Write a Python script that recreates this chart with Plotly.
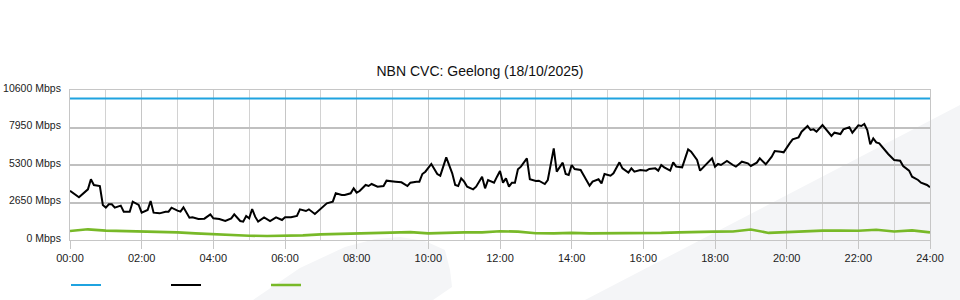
import plotly.graph_objects as go

TITLE = "NBN CVC: Geelong (18/10/2025)"

x_tick_labels = ["00:00", "02:00", "04:00", "06:00", "08:00", "10:00", "12:00",
                 "14:00", "16:00", "18:00", "20:00", "22:00", "24:00"]
y_tick_values = [0, 2650, 5300, 7950, 10600]
y_tick_labels = ["0 Mbps", "2650 Mbps", "5300 Mbps", "7950 Mbps", "10600 Mbps"]

capacity_times = ["00:00", "24:00"]
capacity_mbps = [10000, 10000]

traffic_times = [
    "00:00", "00:15", "00:30", "00:35", "00:40", "00:50", "00:55",
    "01:00", "01:05", "01:10", "01:15", "01:25", "01:30", "01:40", "01:45", "01:55",
    "02:00", "02:10", "02:15", "02:20", "02:30", "02:40", "02:45", "02:50",
    "03:00", "03:05", "03:10", "03:20", "03:25", "03:35", "03:45", "03:55",
    "04:00", "04:10", "04:20", "04:30", "04:35", "04:45", "04:50", "04:55",
    "05:00", "05:05", "05:10", "05:15", "05:25", "05:35", "05:45", "05:55",
    "06:00", "06:10", "06:20", "06:25", "06:35", "06:40", "06:50",
    "07:00", "07:10", "07:20", "07:25", "07:35", "07:40", "07:50", "07:55",
    "08:00", "08:05", "08:15", "08:20", "08:25", "08:35", "08:45", "08:50",
    "09:05", "09:15", "09:25", "09:30", "09:40", "09:45", "09:50", "09:55",
    "10:05", "10:15", "10:20", "10:30", "10:40", "10:45", "10:50", "10:55",
    "11:00", "11:05", "11:15", "11:20", "11:30", "11:35", "11:40", "11:50", "11:55",
    "12:00", "12:05", "12:10", "12:15", "12:20", "12:25", "12:30", "12:35", "12:45", "12:50",
    "13:00", "13:05", "13:15", "13:20", "13:30", "13:35", "13:45", "13:50", "13:55",
    "14:00", "14:05", "14:15", "14:20", "14:25", "14:30", "14:35", "14:45", "14:50", "14:55",
    "15:05", "15:10", "15:20", "15:25", "15:35", "15:40", "15:45", "15:55",
    "16:05", "16:10", "16:20", "16:25", "16:30", "16:35", "16:45", "16:50", "16:55",
    "17:05", "17:10", "17:15", "17:20", "17:30", "17:35", "17:40", "17:45", "17:55",
    "18:00", "18:05", "18:10", "18:20", "18:30", "18:35", "18:45", "18:55",
    "19:00", "19:10", "19:15", "19:25", "19:35", "19:40", "19:50", "19:55",
    "20:05", "20:10", "20:20", "20:25", "20:35", "20:40", "20:45", "20:50",
    "21:00", "21:05", "21:15", "21:20", "21:30", "21:35", "21:45", "21:50",
    "22:00", "22:05", "22:10", "22:15", "22:20", "22:25", "22:30", "22:35", "22:45", "22:50",
    "23:00", "23:10", "23:15", "23:25", "23:30", "23:40", "23:45", "23:55", "24:00",
]
traffic_mbps = [
    3484, 3016, 3580, 4288, 3887, 3816, 2473,
    2285, 2520, 2520, 2285, 2426, 2002, 2002, 2709, 2473,
    1931, 2120, 2756, 1931, 1884, 2002, 2002, 2285,
    2073, 2002, 2308, 1578, 1602, 1484, 1508, 1813,
    1531, 1484, 1343, 1531, 1813, 1343, 1296, 1696,
    1531, 2191, 1649, 1296, 1602, 1343, 1602, 1413,
    1602, 1602, 1696, 2167, 2049, 2167, 1837,
    2238, 2591, 2709, 3298, 3180, 3180, 3298, 3651,
    3345, 3463, 3887, 3816, 3957, 3769, 3816, 4193,
    4123, 4076, 3816, 4052, 4123, 4123, 4664, 4829,
    5371, 4664, 4546, 5842, 4711, 3887, 3816, 4358,
    4123, 3769, 3580, 3769, 4476, 3651, 4240, 4052, 4476,
    4876, 4052, 4358, 3769, 4052, 4052, 4994, 5183, 5771, 4288,
    4170, 4193, 3957, 4240, 6477, 4829, 5465, 4664, 4593,
    5300, 5017, 4947, 4593, 4240, 3840, 4123, 4288, 4005, 4664,
    4546, 4711, 5488, 5064, 4758, 5064, 4829, 4947,
    4900, 5017, 5064, 4900, 5300, 5135, 4900, 5488, 5183,
    5135, 5771, 6407, 6242, 5653, 4900, 5135, 5371, 5771,
    5183, 5371, 5300, 5583, 5300, 5183, 5535, 5418,
    5230, 5465, 5771, 5347, 5889, 6289, 6242, 6195,
    6831, 7114, 7255, 7655, 8056, 7773, 7820, 7655,
    8127, 7891, 7349, 7585, 7490, 7820, 7962, 7585,
    8103, 8056, 8197, 7773, 6760, 7184, 6901, 6831, 6289, 6077,
    5653, 5606, 5230, 4900, 4476, 4240, 4052, 3887, 3722,
]

upload_times = [
    "00:00", "00:30", "01:00", "01:30", "02:00", "02:30", "03:00", "03:30",
    "04:00", "04:30", "05:00", "05:30", "06:00", "06:30", "07:00", "07:30",
    "08:00", "08:30", "09:00", "09:30", "10:00", "10:30", "11:00", "11:30",
    "12:00", "12:30", "13:00", "13:30", "14:00", "14:30", "15:00", "15:30",
    "16:00", "16:30", "17:00", "17:30", "18:00", "18:30", "19:00", "19:30",
    "20:00", "20:30", "21:00", "21:30", "22:00", "22:30", "23:00", "23:30",
    "24:00",
]
upload_mbps = [
    636, 754, 660, 636, 600, 542, 542, 471,
    400, 353, 300, 283, 283, 330, 400, 424,
    450, 471, 542, 560, 470, 520, 540, 542,
    620, 590, 480, 471, 500, 471, 470, 500,
    518, 500, 540, 589, 589, 600, 740, 500,
    560, 620, 660, 660, 650, 720, 600, 680,
    540,
]

assert len(traffic_times) == len(traffic_mbps)
assert len(upload_times) == len(upload_mbps)


def to_hours(t):
    h, m = t.split(":")
    return int(h) + int(m) / 60.0


BLUE = "#1fa3e0"
BLACK = "#000000"
GREEN = "#78b928"
GRID = "#c6c6c6"

fig = go.Figure()
fig.add_trace(go.Scatter(x=[to_hours(t) for t in capacity_times], y=capacity_mbps,
                         mode="lines", name="", line=dict(color=BLUE, width=2.2)))
fig.add_trace(go.Scatter(x=[to_hours(t) for t in traffic_times], y=traffic_mbps,
                         mode="lines", name="", line=dict(color=BLACK, width=2)))
fig.add_trace(go.Scatter(x=[to_hours(t) for t in upload_times], y=upload_mbps,
                         mode="lines", name="", line=dict(color=GREEN, width=2.6)))

# decorative light background swooshes (pixel -> paper helper)
L, T, R, B = 70, 90, 930, 240


def px(xp, yp):
    return (xp - L) / (R - L), (B - yp) / (B - T)


def path(points):
    s = ""
    for i, (a, b) in enumerate(points):
        u, v = px(a, b)
        s += ("M" if i == 0 else "L") + f"{u:.4f},{v:.4f} "
    return s + "Z"


swoosh_a = [(253, 300), (300, 268), (345, 247), (375, 239), (400, 237), (425, 241),
            (445, 250), (450, 270), (452, 287), (433, 300)]
swoosh_b = [(585, 300), (960, 105), (960, 300)]
shapes = []
for pts in (swoosh_a, swoosh_b):
    shapes.append(dict(type="path", path=path(pts), xref="paper", yref="paper",
                       fillcolor="#f4f5f7", line=dict(width=0), layer="below"))

fig.update_layout(
    width=960, height=300,
    margin=dict(l=L, r=960 - R, t=T, b=300 - B, autoexpand=False),
    paper_bgcolor="white", plot_bgcolor="rgba(0,0,0,0)",
    font=dict(family="Liberation Sans, Arial, sans-serif", size=11, color="#222222"),
    title=dict(text=TITLE, x=0.5, xref="container", xanchor="center", y=1 - 71 / 300,
               yref="container", yanchor="middle",
               font=dict(size=14, color="#111111")),
    shapes=shapes,
    showlegend=True,
    legend=dict(orientation="h", x=66 / 960, xref="container", xanchor="left",
                y=1 - 285 / 300, yref="container", yanchor="middle",
                bgcolor="rgba(0,0,0,0)", itemwidth=30, entrywidth=55,
                entrywidthmode="pixels", font=dict(size=11)),
)

fig.update_xaxes(
    range=[0, 24], tickmode="array", automargin=False,
    tickvals=[to_hours(t) for t in x_tick_labels], ticktext=x_tick_labels,
    showgrid=True, gridcolor=GRID, gridwidth=1,
    minor=dict(tickmode="linear", tick0=0, dtick=1, showgrid=True,
               gridcolor="#d2d2d2", gridwidth=1),
    ticks="outside", ticklen=8, tickcolor=GRID, tickwidth=1,
    showline=True, linecolor=GRID, mirror=True, zeroline=False,
    tickfont=dict(size=11, color="#222222"),
)
fig.update_yaxes(
    range=[0, 10600], tickmode="array", tickvals=y_tick_values, ticktext=y_tick_labels,
    automargin=False,
    showgrid=True, gridcolor="#c0c0c0", gridwidth=1.6,
    showline=True, linecolor=GRID, mirror=True, zeroline=False,
    ticks="", ticklabelstandoff=6, ticklabelshift=-2,
    tickfont=dict(size=10.5, color="#222222"),
)

fig.write_html("out.html")
